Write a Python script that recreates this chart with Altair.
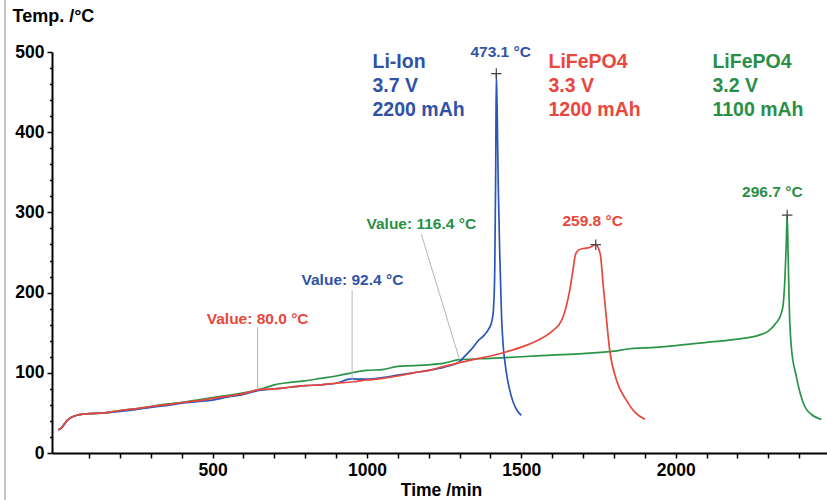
import altair as alt
import pandas as pd

# ---------------- data ----------------
red_t = [0, 10, 20, 30, 45, 60, 80, 100, 150, 200, 250, 300, 350, 400, 450, 500, 550, 600, 650,
         700, 750, 800, 850, 900, 950, 1000, 1050, 1100, 1150, 1200, 1250, 1300, 1350, 1400, 1450,
         1500, 1550, 1600, 1630, 1650, 1660, 1668, 1675, 1685, 1700, 1720, 1741, 1750, 1757, 1765,
         1775, 1786, 1808, 1840, 1870, 1900]
red_v = [29, 31, 36, 41, 45, 47, 48.5, 49, 50, 53, 55, 58, 60, 63, 65, 68, 71, 74, 79,
         80, 82, 84, 85, 87, 88.5, 91, 93, 96, 100, 103, 108, 112.6, 117, 121, 126,
         132, 140, 152, 165, 190, 210, 230, 247, 253, 255, 256, 259.8, 255, 245, 210,
         170, 129, 91, 66, 50, 42]

blue_t = [0, 10, 20, 30, 45, 60, 80, 100, 150, 200, 250, 300, 350, 400, 450, 500, 550, 600, 650,
          700, 750, 800, 850, 900, 950, 1000, 1050, 1100, 1150, 1200, 1250, 1300, 1320, 1340, 1360,
          1380, 1395, 1405, 1410, 1414, 1417, 1419, 1422, 1425, 1430, 1436, 1441, 1446, 1455, 1462,
          1475, 1488, 1500]
blue_v = [29, 31, 36, 41, 45, 47, 48.5, 49, 50, 52, 54, 57, 59, 62, 64, 66, 70, 73, 78,
          80, 82, 84, 85, 87, 92.4, 92, 94, 97, 100, 103, 107, 114, 122, 130, 140,
          147, 155, 165, 180, 230, 350, 473.1, 420, 340, 250, 170, 135, 116, 92, 79,
          62, 52, 47]

green_t = [0, 10, 20, 30, 45, 60, 80, 100, 150, 200, 250, 300, 350, 400, 450, 500, 550, 600, 650,
           700, 750, 800, 850, 900, 950, 1000, 1050, 1100, 1150, 1200, 1250, 1300, 1400, 1500, 1600,
           1700, 1800, 1850, 1900, 2000, 2100, 2200, 2270, 2300, 2325, 2340, 2348, 2354, 2358, 2361,
           2364, 2368, 2375, 2391, 2405, 2418, 2440, 2472]
green_v = [29, 31, 36, 41, 45, 47, 48.5, 49, 50, 53, 55, 58, 61, 63, 66, 69, 72, 75, 79,
           85, 88, 90, 93, 96, 100, 103, 104, 108, 109, 110, 112, 116.4, 118, 120, 122,
           124, 127, 130, 131, 134, 138, 142, 147, 152, 162, 172, 185, 220, 260, 296.7,
           250, 180, 130, 95, 72, 58, 48, 42]

BLUE = "#2b56b8"
RED = "#e8473d"
GREEN = "#2a9548"
BLUE_T = "#2f52a6"
RED_T = "#e8473d"
GREEN_T = "#2a8f46"

# annotation labels
ann_text = ["Value: 80.0 °C", "Value: 92.4 °C", "Value: 116.4 °C", "473.1 °C", "259.8 °C", "296.7 °C"]
ann_x = [646, 953, 1176, 1433, 1731, 2313]
ann_y = [167.5, 216, 286, 500, 289, 325]
ann_col = [RED_T, BLUE_T, GREEN_T, BLUE_T, RED_T, GREEN_T]

# pointer lines (label -> value)
ptr_x = [646, 952, 1176]
ptr_y = [157, 203, 273]
ptr_x2 = [646, 952, 1300]
ptr_y2 = [79, 87, 116.4]

# peak markers
peak_x = [1419, 1741, 2361]
peak_y = [473.1, 259.8, 296.7]

# legend blocks
leg_text = ["Li-Ion", "3.7 V", "2200 mAh", "LiFePO4", "3.3 V", "1200 mAh", "LiFePO4", "3.2 V", "1100 mAh"]
leg_x = [1018] * 3 + [1588] * 3 + [2119] * 3
leg_y = [487, 457, 428] * 3
leg_col = [BLUE_T] * 3 + [RED_T] * 3 + [GREEN_T] * 3

x_ticks = list(range(100, 2500, 100))
y_ticks = list(range(0, 501, 20))

FONT = "Liberation Sans"

# ---------------- scales / axes ----------------
xscale = alt.Scale(domain=[-20, 2490], nice=False, zero=False)
yscale = alt.Scale(domain=[0, 500], nice=False)

xaxis = alt.Axis(
    values=x_ticks, tickCount=500,
    labelExpr="datum.value % 500 == 0 ? datum.value : ''",
    format="d",
    grid=False, domainColor="black", domainWidth=2, tickColor="black", tickWidth=1.5,
    tickSize=5, labelFont=FONT, labelFontSize=17.5, labelFontWeight="bold", labelColor="black",
    labelPadding=3, labelFlush=False, labelOverlap=False,
    title="Time /min", titleFont=FONT, titleFontSize=17.5, titleFontWeight="bold",
    titleColor="black", titleX=389, titleY=37, titleAlign="center", titleBaseline="middle",
)
yaxis = alt.Axis(
    values=y_ticks, tickCount=500,
    labelExpr="datum.value % 100 == 0 ? datum.value : ''",
    grid=False, domainColor="black", domainWidth=2, tickColor="black", tickWidth=1.5,
    tickSize={"condition": {"test": "datum.value % 100 == 0", "value": 5}, "value": 2.5},
    labelFont=FONT, labelFontSize=17.5, labelFontWeight="bold", labelColor="black",
    labelPadding=3, labelOverlap=False, labelFlush=False,
    title="Temp. /°C", titleFont=FONT, titleFontSize=18, titleFontWeight="bold", titleColor="black",
    titleAngle=0, titleX=-40, titleY=-36, titleAlign="left", titleBaseline="middle",
)


def X(field):
    return alt.X(field, scale=xscale, axis=xaxis)


def Y(field):
    return alt.Y(field, scale=yscale, axis=yaxis)


def line(ts, vs, color):
    df = pd.DataFrame({"t": ts, "v": vs})
    return alt.Chart(df).mark_line(color=color, strokeWidth=1.7, interpolate="monotone").encode(
        x=X("t:Q"), y=Y("v:Q"),
    )


green_line = line(green_t, green_v, GREEN)
blue_line = line(blue_t, blue_v, BLUE)
red_line = line(red_t, red_v, RED)

ptr_df = pd.DataFrame({"x": ptr_x, "y": ptr_y, "x2": ptr_x2, "y2": ptr_y2})
pointers = alt.Chart(ptr_df).mark_rule(color="#b4b4bc", strokeWidth=1).encode(
    x=X("x:Q"), y=Y("y:Q"), x2="x2:Q", y2="y2:Q"
)

peak_df = pd.DataFrame({"x": peak_x, "y": peak_y})
peaks = alt.Chart(peak_df).mark_point(
    shape="M-1,0L1,0M0,-1L0,1", size=110, filled=False, color="#444444", strokeWidth=1.2, opacity=1
).encode(x=X("x:Q"), y=Y("y:Q"))

ann_df = pd.DataFrame({"x": ann_x, "y": ann_y, "text": ann_text, "c": ann_col})
annotations = alt.Chart(ann_df).mark_text(
    font=FONT, fontSize=15.5, fontWeight="bold", align="center", baseline="middle"
).encode(
    x=X("x:Q"), y=Y("y:Q"), text="text:N",
    color=alt.Color("c:N", scale=None),
)

leg_df = pd.DataFrame({"x": leg_x, "y": leg_y, "text": leg_text, "c": leg_col})
legend_text = alt.Chart(leg_df).mark_text(
    font=FONT, fontSize=19.5, fontWeight="bold", align="left", baseline="middle"
).encode(
    x=X("x:Q"), y=Y("y:Q"), text="text:N",
    color=alt.Color("c:N", scale=None),
)

border = alt.Chart(pd.DataFrame({"a": [0]})).mark_rule(color="#a0a0a0", strokeWidth=1.2).encode(
    x=alt.value(-47), y=alt.value(-52), y2=alt.value(448)
)

chart = alt.layer(
    green_line, blue_line, red_line, pointers, peaks, annotations, legend_text, border
).properties(
    width=775, height=401,
    autosize=alt.AutoSizeParams(type="none"),
    padding={"left": 52, "top": 52, "right": 0, "bottom": 47},
    background="white",
).configure_view(stroke=None)

chart.save("out.html", embed_options={"renderer": "svg", "actions": False})
